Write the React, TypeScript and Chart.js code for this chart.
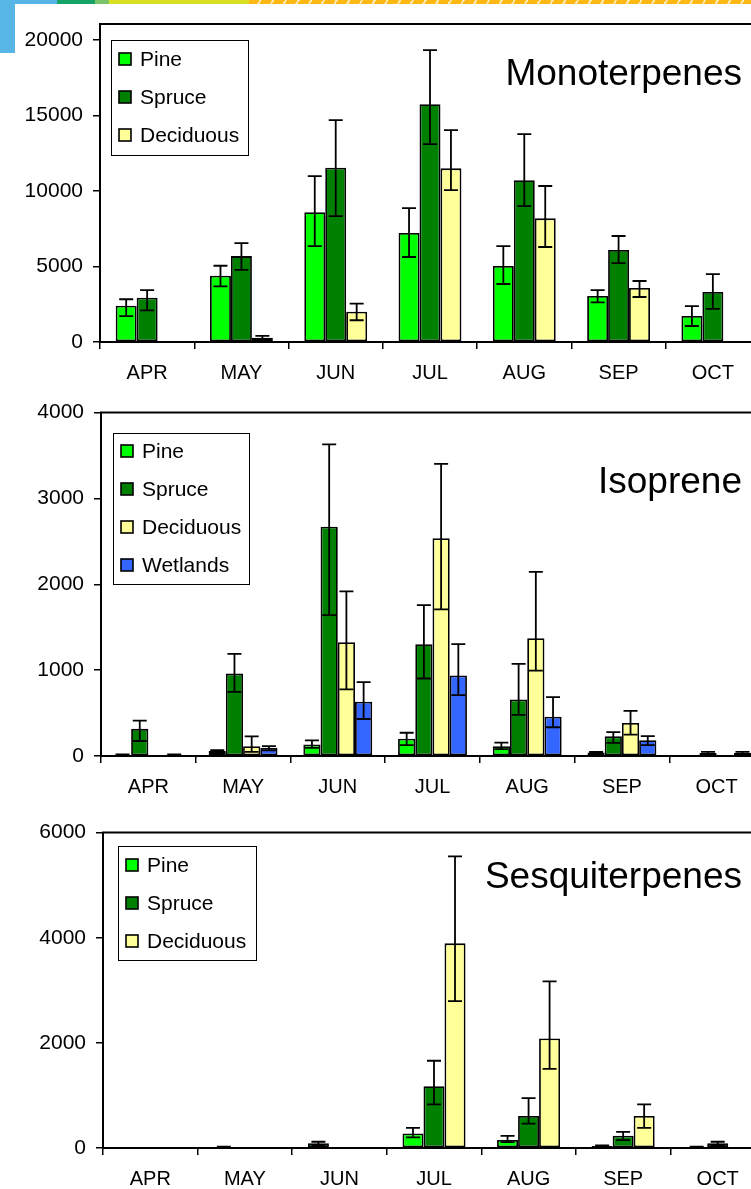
import React, { useEffect, useRef } from 'react';
import { Chart, registerables } from 'chart.js';
Chart.register(...registerables);

// ---------- data ----------
const months = ['APR', 'MAY', 'JUN', 'JUL', 'AUG', 'SEP', 'OCT'];

const monoTicks = [0, 5000, 10000, 15000, 20000];
const monoPine = [2400, 4390, 8600, 7220, 5030, 3050, 1720];
const monoPineHi = [2830, 5050, 10990, 8870, 6350, 3440, 2380];
const monoPineLo = [1720, 3690, 6350, 5630, 3840, 2620, 1060];
const monoSpruce = [2930, 5690, 11540, 15750, 10720, 6090, 3310];
const monoSpruceHi = [3440, 6550, 14700, 19330, 13770, 7020, 4500];
const monoSpruceLo = [2100, 4770, 8340, 13110, 9000, 5230, 2190];
const monoDecid = [0, 285, 2010, 11500, 8190, 3580, 0];
const monoDecidHi = [0, 400, 2540, 14030, 10330, 4040, 0];
const monoDecidLo = [0, 130, 1440, 10060, 6290, 2980, 0];

const isoTicks = [0, 1000, 2000, 3000, 4000];
const isoPine = [15, 57, 133, 202, 114, 40, 5];
const isoPineHi = [20, 69, 183, 271, 156, 49, 5];
const isoPineLo = [10, 34, 95, 126, 80, 30, 5];
const isoSpruce = [316, 960, 2670, 1303, 659, 229, 34];
const isoSpruceHi = [411, 1189, 3630, 1757, 1074, 278, 49];
const isoSpruceLo = [175, 746, 1642, 903, 480, 152, 20];
const isoDecid = [0, 114, 1326, 2537, 1371, 385, 0];
const isoDecidHi = [0, 229, 1917, 3403, 2145, 526, 0];
const isoDecidLo = [0, 49, 777, 1707, 994, 248, 0];
const isoWet = [15, 95, 632, 937, 457, 183, 34];
const isoWetHi = [20, 114, 861, 1303, 686, 232, 49];
const isoWetLo = [10, 65, 431, 709, 335, 126, 20];

const sesqTicks = [0, 2000, 4000, 6000];
const sesqPine = [0, 20, 88, 277, 151, 40, 20];
const sesqPineHi = [0, 25, 119, 383, 232, 50, 25];
const sesqPineLo = [0, 15, 50, 201, 113, 30, 15];
const sesqSpruce = [0, 0, 0, 1175, 610, 232, 88];
const sesqSpruceHi = [0, 0, 0, 1660, 950, 308, 119];
const sesqSpruceLo = [0, 0, 0, 830, 465, 151, 50];
const sesqDecid = [0, 0, 0, 3893, 2082, 610, 0];
const sesqDecidHi = [0, 0, 0, 5548, 3170, 830, 0];
const sesqDecidLo = [0, 0, 0, 2793, 1504, 383, 0];

const seriesNames = ['Pine', 'Spruce', 'Deciduous', 'Wetlands'];
const seriesColors = ['#00FF00', '#008000', '#FFFF99', '#3366FF'];

const FONT = "'Liberation Sans', Arial, Helvetica, sans-serif";

// ---------- plugins ----------
const errorBarPlugin = {
  id: 'errorBars',
  afterDatasetsDraw(chart: any) {
    const ctx = chart.ctx;
    const ys = chart.scales.y;
    chart.data.datasets.forEach((ds: any, i: number) => {
      const meta = chart.getDatasetMeta(i);
      meta.data.forEach((el: any, j: number) => {
        const hi = ds.errHigh[j];
        const lo = ds.errLow[j];
        if (hi === lo) return;
        const x = el.x;
        const yh = ys.getPixelForValue(hi);
        const yl = ys.getPixelForValue(lo);
        ctx.save();
        ctx.strokeStyle = '#000';
        ctx.lineWidth = 1.8;
        ctx.beginPath();
        ctx.moveTo(x, yh);
        ctx.lineTo(x, yl);
        ctx.moveTo(x - 7, yh);
        ctx.lineTo(x + 7, yh);
        ctx.moveTo(x - 7, yl);
        ctx.lineTo(x + 7, yl);
        ctx.stroke();
        ctx.restore();
      });
    });
  },
};

const decorPlugin = {
  id: 'decor',
  afterDraw(chart: any, _args: any, opts: any) {
    const ctx = chart.ctx;
    const a = chart.chartArea;
    ctx.save();
    // frame top & right
    ctx.strokeStyle = '#000';
    ctx.lineWidth = 2;
    ctx.beginPath();
    ctx.moveTo(a.left - 1, a.top);
    ctx.lineTo(a.right, a.top);
    ctx.lineTo(a.right, a.bottom);
    ctx.stroke();

    // legend
    const L = opts.legend;
    ctx.fillStyle = '#fff';
    ctx.fillRect(L.x, L.y, L.w, L.h);
    ctx.lineWidth = 1;
    ctx.strokeStyle = '#000';
    ctx.strokeRect(L.x + 0.5, L.y + 0.5, L.w, L.h);
    ctx.font = `21px ${FONT}`;
    ctx.textBaseline = 'middle';
    ctx.textAlign = 'left';
    chart.data.datasets.forEach((ds: any, i: number) => {
      const cy = L.first + i * L.step;
      ctx.fillStyle = ds.backgroundColor;
      ctx.fillRect(L.x + 8, cy - 6, 12, 12);
      ctx.lineWidth = 1.6;
      ctx.strokeStyle = '#000';
      ctx.strokeRect(L.x + 8, cy - 6, 12, 12);
      ctx.fillStyle = '#000';
      ctx.fillText(ds.label, L.x + 29, cy + 1);
    });

    // title
    const T = opts.title;
    ctx.font = `${T.size}px ${FONT}`;
    ctx.textAlign = 'right';
    ctx.textBaseline = 'alphabetic';
    ctx.fillStyle = '#000';
    ctx.fillText(T.text, T.x, T.y);
    ctx.restore();
  },
};

// ---------- panel ----------
type Panel = {
  top: number;
  height: number;
  left: number;
  right: number;
  areaTop: number;
  areaBottom: number;
  yMax: number;
  yTicks: number[];
  series: { data: number[]; hi: number[]; lo: number[] }[];
  legend: { x: number; y: number; w: number; h: number; first: number; step: number };
  title: { text: string; x: number; y: number; size: number };
};

const CANVAS_W = 800;

function PanelChart({ p }: { p: Panel }) {
  const ref = useRef<HTMLCanvasElement>(null);
  useEffect(() => {
    if (!ref.current) return;
    const n = p.series.length;
    const catPct = n / (n + 1.5);
    const chart = new Chart(ref.current, {
      type: 'bar',
      data: {
        labels: months,
        datasets: p.series.map((s, i) => ({
          label: seriesNames[i],
          data: s.data,
          errHigh: s.hi,
          errLow: s.lo,
          backgroundColor: seriesColors[i],
          borderColor: '#000',
          borderWidth: 1.8,
          borderSkipped: false,
          categoryPercentage: catPct,
          barPercentage: 1,
        })) as any,
      },
      options: {
        responsive: false,
        animation: false,
        events: [],
        layout: {
          padding: { top: p.areaTop, right: CANVAS_W - p.right, left: 0, bottom: 0 },
        },
        plugins: {
          legend: { display: false },
          tooltip: { enabled: false },
          decor: { legend: p.legend, title: p.title },
        } as any,
        scales: {
          x: {
            type: 'category',
            offset: true,
            border: { display: true, color: '#000', width: 2 },
            grid: {
              offset: true,
              drawOnChartArea: false,
              drawTicks: true,
              tickLength: 7,
              color: '#000',
              lineWidth: 1.5,
            },
            ticks: {
              color: '#000',
              font: { family: FONT, size: 20 },
              padding: 12,
              maxRotation: 0,
              autoSkip: false,
            },
            afterFit: (s: any) => {
              s.height = p.height - p.areaBottom;
            },
          },
          y: {
            min: 0,
            max: p.yMax,
            border: { display: true, color: '#000', width: 2 },
            grid: {
              drawOnChartArea: false,
              drawTicks: true,
              tickLength: 7,
              color: '#000',
              lineWidth: 1.5,
            },
            ticks: {
              color: '#000',
              font: { family: FONT, size: 21 },
              padding: 10,
              callback: (v: any) => String(v),
            },
            afterBuildTicks: (s: any) => {
              s.ticks = p.yTicks.map((v) => ({ value: v }));
            },
            afterFit: (s: any) => {
              s.width = p.left;
            },
          },
        },
      },
      plugins: [errorBarPlugin, decorPlugin],
    });
    return () => chart.destroy();
  }, [p]);
  return (
    <canvas
      ref={ref}
      width={CANVAS_W}
      height={p.height}
      style={{ position: 'absolute', left: 0, top: p.top, width: CANVAS_W, height: p.height }}
    />
  );
}

const panels: Panel[] = [
  {
    top: 0,
    height: 390,
    left: 100,
    right: 760,
    areaTop: 24,
    areaBottom: 342,
    yMax: 21060,
    yTicks: monoTicks,
    series: [
      { data: monoPine, hi: monoPineHi, lo: monoPineLo },
      { data: monoSpruce, hi: monoSpruceHi, lo: monoSpruceLo },
      { data: monoDecid, hi: monoDecidHi, lo: monoDecidLo },
    ],
    legend: { x: 111, y: 40, w: 137, h: 115, first: 59, step: 38 },
    title: { text: 'Monoterpenes', x: 742, y: 85, size: 37 },
  },
  {
    top: 390,
    height: 420,
    left: 101,
    right: 764,
    areaTop: 16,
    areaBottom: 366,
    yMax: 4000,
    yTicks: isoTicks,
    series: [
      { data: isoPine, hi: isoPineHi, lo: isoPineLo },
      { data: isoSpruce, hi: isoSpruceHi, lo: isoSpruceLo },
      { data: isoDecid, hi: isoDecidHi, lo: isoDecidLo },
      { data: isoWet, hi: isoWetHi, lo: isoWetLo },
    ],
    legend: { x: 113, y: 43, w: 136, h: 151, first: 61, step: 38 },
    title: { text: 'Isoprene', x: 742, y: 103, size: 37 },
  },
  {
    top: 810,
    height: 379,
    left: 103,
    right: 765,
    areaTop: 20,
    areaBottom: 338,
    yMax: 6000,
    yTicks: sesqTicks,
    series: [
      { data: sesqPine, hi: sesqPineHi, lo: sesqPineLo },
      { data: sesqSpruce, hi: sesqSpruceHi, lo: sesqSpruceLo },
      { data: sesqDecid, hi: sesqDecidHi, lo: sesqDecidLo },
    ],
    legend: { x: 118, y: 36, w: 138, h: 114, first: 55, step: 38 },
    title: { text: 'Sesquiterpenes', x: 742, y: 78, size: 37 },
  },
];

export default function App() {
  return (
    <div
      style={{
        position: 'fixed',
        left: 0,
        top: 0,
        width: 751,
        height: 1189,
        overflow: 'hidden',
        background: '#fff',
      }}
    >
      {/* decorative header band */}
      <div style={{ position: 'absolute', left: 0, top: 0, width: 15, height: 53, background: '#58B6E6' }} />
      <div style={{ position: 'absolute', left: 0, top: 0, width: 57, height: 4, background: '#58B6E6' }} />
      <div style={{ position: 'absolute', left: 57, top: 0, width: 38, height: 4, background: '#17A366' }} />
      <div style={{ position: 'absolute', left: 95, top: 0, width: 14, height: 4, background: '#7CC46A' }} />
      <div style={{ position: 'absolute', left: 109, top: 0, width: 140, height: 4, background: '#D9E022' }} />
      <div
        style={{
          position: 'absolute',
          left: 249,
          top: 0,
          width: 502,
          height: 4,
          background: 'repeating-linear-gradient(120deg, #FDB813 0px, #FDB813 9px, #FFE9B0 9px, #FFE9B0 11px)',
        }}
      />
      {panels.map((p, i) => (
        <PanelChart key={i} p={p} />
      ))}
    </div>
  );
}
